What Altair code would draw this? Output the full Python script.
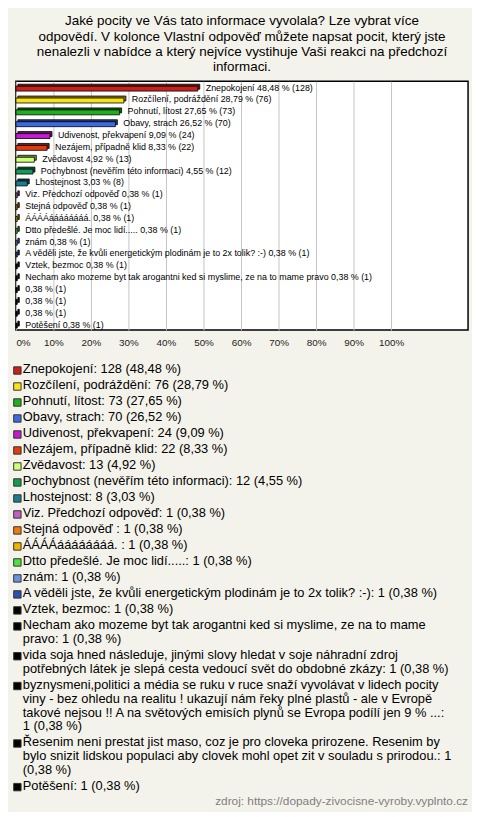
import altair as alt
import pandas as pd

# ---------------- data ----------------
names = [
    "Znepokojení",
    "Rozčílení, podráždění",
    "Pohnutí, lítost",
    "Obavy, strach",
    "Udivenost, překvapení",
    "Nezájem, případně klid",
    "Zvědavost",
    "Pochybnost (nevěřím této informaci)",
    "Lhostejnost",
    "Viz. Předchozí odpověď",
    "Stejná odpověď ",
    "ÁÁÁÁáááááááá. ",
    "Dtto předešlé. Je moc lidí.....",
    "znám",
    "A věděli jste, že kvůli energetickým plodinám je to 2x tolik? :-)",
    "Vztek, bezmoc",
    "Necham ako mozeme byt tak arogantni ked si myslime, ze na to mame pravo",
    "vida soja hned následuje, jinými slovy hledat v soje náhradní zdroj potřebných látek je slepá cesta vedoucí svět do obdobné zkázy",
    "byznysmeni,politici a média se ruku v ruce snaží vyvolávat v lidech pocity viny - bez ohledu na realitu ! ukazují nám řeky plné plastů - ale v Evropě takové nejsou !!  A na světových emisích plynů se Evropa podílí  jen 9 % ...",
    "Řesenim neni prestat jist maso, coz je pro cloveka prirozene. Resenim by bylo snizit lidskou populaci aby clovek mohl opet zit v souladu s prirodou.",
    "Potěšení",
]
counts = [128, 76, 73, 70, 24, 22, 13, 12, 8, 1, 1, 1, 1, 1, 1, 1, 1, 1, 1, 1, 1]
pcts = [48.48, 28.79, 27.65, 26.52, 9.09, 8.33, 4.92, 4.55, 3.03,
        0.38, 0.38, 0.38, 0.38, 0.38, 0.38, 0.38, 0.38, 0.38, 0.38, 0.38, 0.38]
colors = [
    "#C8201A", "#F8E21C", "#1EAE1E", "#3C6AE0", "#C21CCC", "#E03C10",
    "#CCFF7A", "#149A56", "#1E7A8E", "#C060C0", "#F07A12", "#F0B400",
    "#50E040", "#7090E0", "#2A50B0", "#000000", "#000000", "#000000",
    "#000000", "#000000", "#000000",
]
title_lines = [
    "Jaké pocity ve Vás tato informace vyvolala? Lze vybrat více",
    "odpovědí. V kolonce Vlastní odpověď můžete napsat pocit, který jste",
    "nenalezli v nabídce a který nejvíce vystihuje Vaši reakci na předchozí",
    "informaci.",
]
tick_values = [0, 10, 20, 30, 40, 50, 60, 70, 80, 90, 100]
source_text = "zdroj: https://dopady-zivocisne-vyroby.vyplnto.cz"
# where the long legend entries wrap
legend_breaks = {
    16: ["mame "],
    17: ["zdroj "],
    18: ["pocity ", "Evropě ", "...: "],
    19: ["Resenim by ", "prirodou.: 1 "],
}

# ---------------- helpers ----------------
def fmt(p):
    return f"{p:.2f}".replace(".", ",")


def darker(hx, f=0.55):
    r, g, b = int(hx[1:3], 16), int(hx[3:5], 16), int(hx[5:7], 16)
    return "#%02x%02x%02x" % (int(r * f), int(g * f), int(b * f))


bar_labels = []
legend_labels = []
for i, (n, c, p) in enumerate(zip(names, counts, pcts)):
    tail = f"{fmt(p)} % ({c})"
    bar_labels.append(tail if len(n) > 100 else f"{n} {tail}")
    lab = f"{n}: {c} ({fmt(p)} %)"
    for s in legend_breaks.get(i, []):
        lab = lab.replace(s, s.rstrip() + "\n", 1)
    legend_labels.append(lab)

df = pd.DataFrame({
    "name": names, "pct": pcts, "label": bar_labels,
})

FONT = "Liberation Sans"
W, H = 458, 252
XMAX = 120.5

xenc = alt.X(
    "pct:Q",
    scale=alt.Scale(domain=[0, XMAX], nice=False, zero=True),
    axis=alt.Axis(values=tick_values, labelExpr="datum.value + '%'", grid=True,
                  gridColor="#C4C4C4", gridWidth=1, ticks=False, domain=False,
                  labelFlush=True, labelPadding=8, labelFontSize=10,
                  labelColor="#222222", title=None),
)
yenc = alt.Y("name:N", sort=names, axis=None,
             scale=alt.Scale(paddingInner=0, paddingOuter=0))

back = alt.Chart(df).mark_bar(size=5, xOffset=2, yOffset=-0.5, stroke="#000000",
                              strokeWidth=0.8).encode(
    x=xenc, y=yenc,
    color=alt.Color("name:N", scale=alt.Scale(domain=names, range=[darker(c) for c in colors]),
                    legend=None),
)
front = alt.Chart(df).mark_bar(size=5, yOffset=1.5, stroke="#000000",
                               strokeWidth=0.8).encode(
    x=xenc, y=yenc,
    fill=alt.Fill("name:N", scale=alt.Scale(domain=names, range=colors), legend=None),
)
labels = alt.Chart(df).mark_text(align="left", baseline="middle", dx=8, dy=0.5,
                                 fontSize=9, color="#000000").encode(
    x="pct:Q", y=yenc, text="label:N",
)

bars = alt.layer(back, front, labels).resolve_scale(color="independent").properties(
    width=W, height=H,
    view=alt.ViewBackground(fill="#FFFFFF", stroke="#000000", strokeWidth=1.5),
    title=alt.TitleParams(text=title_lines, fontSize=13.6, fontWeight="normal",
                          anchor="middle", lineHeight=15.3, offset=8,
                          color="#000000"),
)

# ---------------- custom legend ----------------
Y0, ES, LH = 15, 16.2, 14
ytops = []
y = Y0
for lab in legend_labels:
    ytops.append(y)
    y += (lab.count("\n")) * LH + ES
HB = 447

ldf = pd.DataFrame({
    "name": names, "legend": legend_labels, "ytop": ytops,
    "ymid": [v + 7 for v in ytops],
})
yscale = alt.Scale(domain=[0, HB], reverse=True, nice=False, zero=False)

sw = alt.Chart(ldf).mark_square(size=56, stroke="#333333", strokeWidth=1,
                                opacity=1).encode(
    x=alt.value(1.5),
    y=alt.Y("ymid:Q", scale=yscale, axis=None),
    fill=alt.Fill("name:N", scale=alt.Scale(domain=names, range=colors), legend=None),
)
tx = alt.Chart(ldf).mark_text(align="left", baseline="top", fontSize=13,
                              lineBreak="\n", lineHeight=14,
                              color="#000000").encode(
    x=alt.value(7),
    y=alt.Y("ytop:Q", scale=yscale, axis=None),
    text="legend:N",
)
legend = alt.layer(sw, tx).properties(
    width=W, height=HB,
    view=alt.ViewBackground(strokeOpacity=0, fillOpacity=0),
    title=alt.TitleParams(text=source_text, orient="bottom", anchor="end",
                          fontSize=12, fontWeight="normal", color="#808080",
                          offset=3),
)

chart = alt.vconcat(bars, legend, spacing=0).properties(
    background="#F4F3EB",
    padding={"left": 3, "top": 0, "right": 3, "bottom": 0},
).configure(font=FONT)

chart.save("out.html", embed_options={"renderer": "svg", "actions": False})
